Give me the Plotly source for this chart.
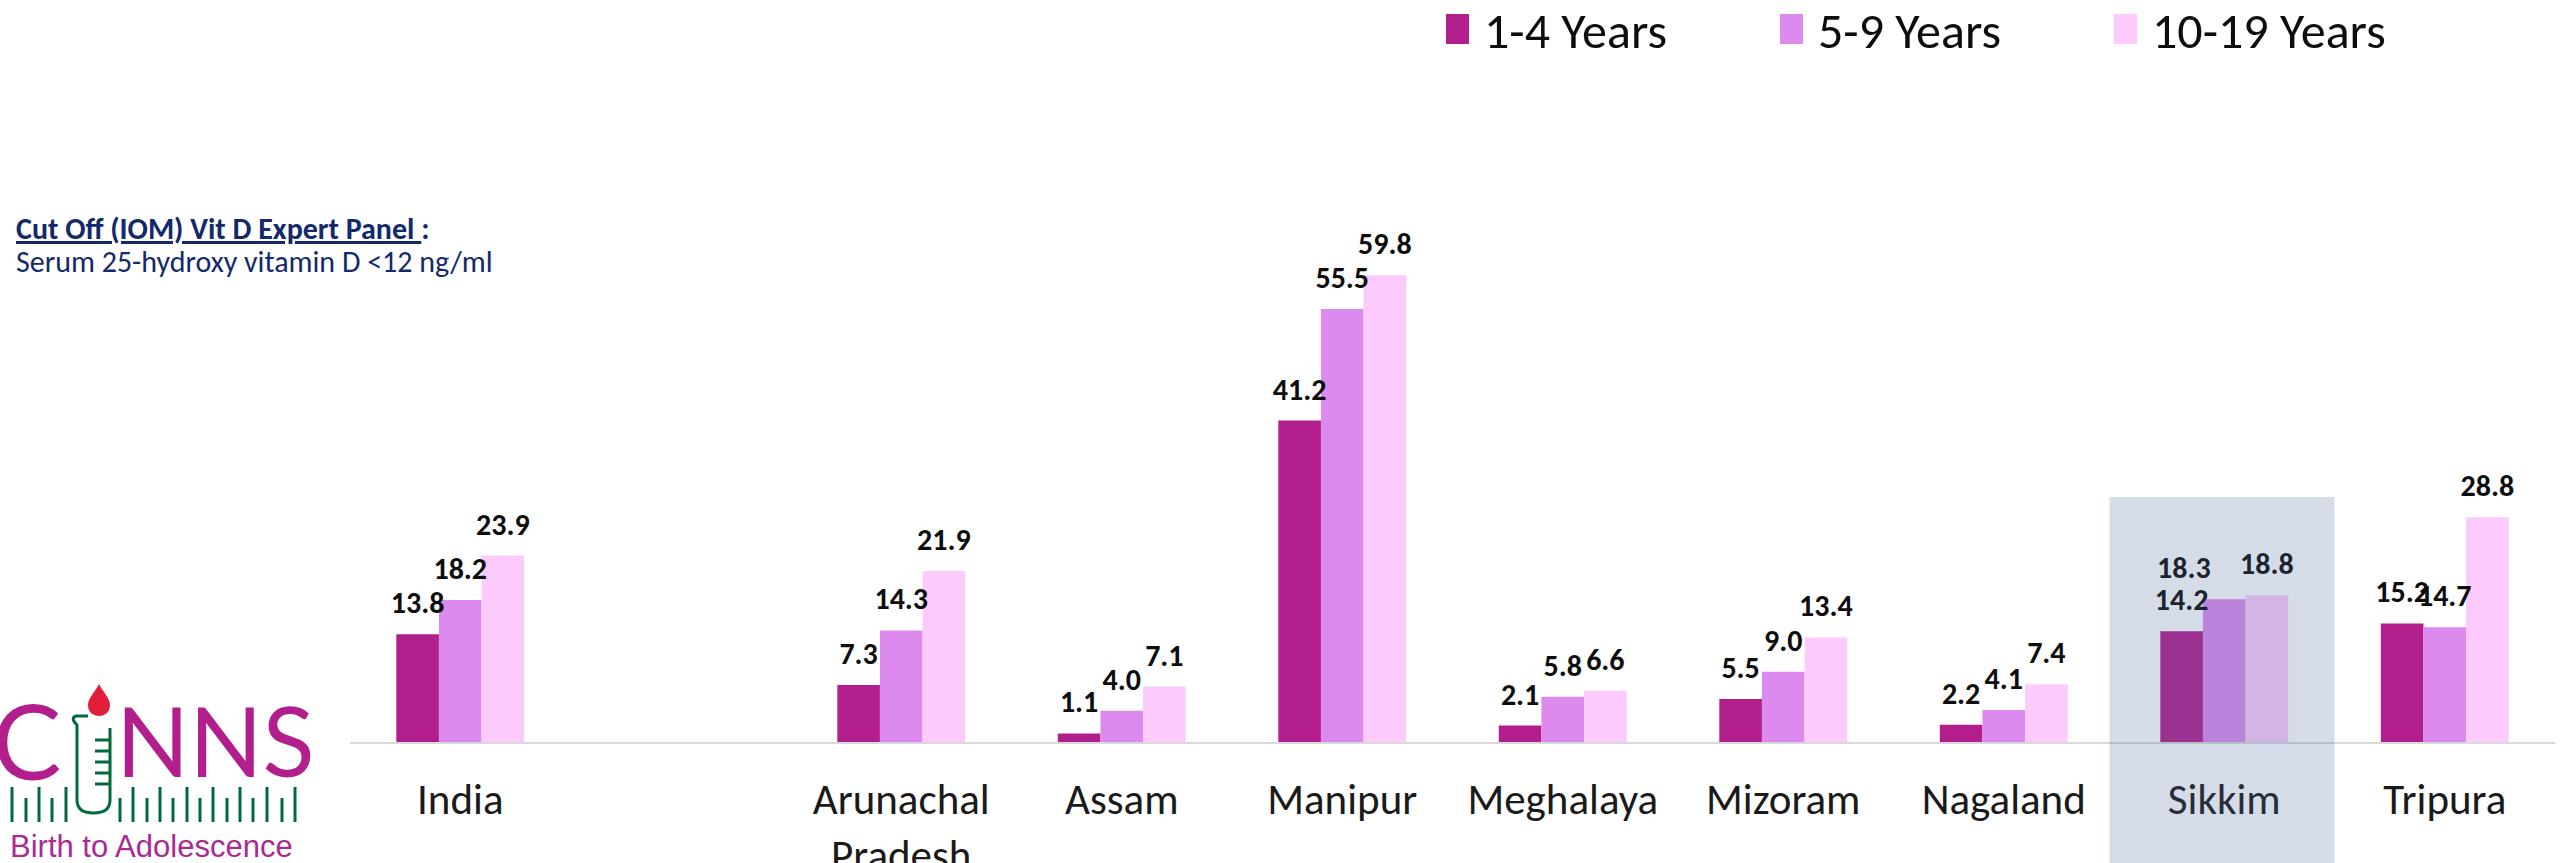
import plotly.graph_objects as go

W, H = 2573, 863

# ---- data -------------------------------------------------------------
states = ["India", "Arunachal<br>Pradesh", "Assam", "Manipur", "Meghalaya",
          "Mizoram", "Nagaland", "Sikkim", "Tripura"]
age_groups = ["1-4 Years", "5-9 Years", "10-19 Years"]
vals_1_4 = [13.8, 7.3, 1.1, 41.2, 2.1, 5.5, 2.2, 14.2, 15.2]
vals_5_9 = [18.2, 14.3, 4.0, 55.5, 5.8, 9.0, 4.1, 18.3, 14.7]
vals_10_19 = [23.9, 21.9, 7.1, 59.8, 6.6, 13.4, 7.4, 18.8, 28.8]
colors = ["#B31E8D", "#DD8AEF", "#FCCBFC"]
highlight_state = "Sikkim"

# empty slot separating the national figure from the states
axis_order = [states[0], " "] + states[1:]

FONT = "Carlito, Calibri, Lato, 'Open Sans', sans-serif"
NAVY = "#13296B"
LOGO_PURPLE = "#B31E8D"
LOGO_GREEN = "#00693E"

ML, MR, MT, MB = 350, 18, 60, 121
PW = W - ML - MR
PH = H - MT - MB


def px_x(px):
    return (px - ML) / PW


def px_y(py):
    return (H - MB - py) / PH


def path(points, close=False):
    s = "M " + " L ".join(f"{px_x(x):.5f},{px_y(y):.5f}" for x, y in points)
    return s + (" Z" if close else "")


fig = go.Figure()

series = [vals_1_4, vals_5_9, vals_10_19]
for name, vals, col in zip(age_groups, series, colors):
    fig.add_trace(go.Bar(
        x=states, y=vals, name=name,
        marker=dict(color=col, line=dict(width=0)),
        showlegend=False, hoverinfo="skip",
    ))

# value labels, grouped the same way as the bars; the middle Sikkim label
# is nudged left so it clears its neighbours
for name, vals in zip(age_groups, series):
    positions = ["top left" if (s == highlight_state and name == age_groups[1])
                 else "top center" for s in states]
    fig.add_trace(go.Scatter(
        x=states, y=vals, name=name, mode="markers+text",
        texttemplate="<b>%{y:.1f}</b>", textposition=positions,
        textfont=dict(family=FONT, size=30, color="#0D0D0D"),
        marker=dict(size=20, color="rgba(0,0,0,0)"),
        showlegend=False, hoverinfo="skip", cliponaxis=False,
    ))

# highlight band over Sikkim
idx = axis_order.index(highlight_state)
fig.add_shape(type="rect", xref="x", yref="paper",
              x0=idx - 0.52, x1=idx + 0.5, y0=px_y(H + 5), y1=px_y(497),
              fillcolor="rgba(78,107,158,0.24)", line_width=0, layer="above")

# legend drawn as squares + labels across the top
leg_x = [1446, 1780, 2114]
for name, col, lx in zip(age_groups, colors, leg_x):
    fig.add_shape(type="rect", xref="paper", yref="paper",
                  x0=px_x(lx), x1=px_x(lx + 23), y0=px_y(44), y1=px_y(14),
                  fillcolor=col, line_width=0)
    fig.add_annotation(xref="paper", yref="paper", x=px_x(lx + 36), y=px_y(30),
                       xanchor="left", yanchor="middle", showarrow=False,
                       text=name, font=dict(family=FONT, size=50, color="#0D0D0D"))

# cut-off note
fig.add_annotation(xref="paper", yref="paper", x=px_x(14), y=px_y(208),
                   xanchor="left", yanchor="top", showarrow=False,
                   text="<b><u>Cut Off (IOM) Vit D Expert Panel </u>:</b>",
                   font=dict(family=FONT, size=30, color=NAVY))
fig.add_annotation(xref="paper", yref="paper", x=px_x(14), y=px_y(241),
                   xanchor="left", yanchor="top", showarrow=False,
                   text="Serum 25-hydroxy vitamin D &lt;12 ng/ml",
                   font=dict(family=FONT, size=30, color=NAVY))

# ---- logo ---------------------------------------------------------------
fig.add_annotation(xref="paper", yref="paper", x=px_x(-10), y=px_y(739),
                   xanchor="left", yanchor="middle", showarrow=False,
                   text="C", font=dict(family="Lato", size=104, color=LOGO_PURPLE))
fig.add_annotation(xref="paper", yref="paper", x=px_x(114), y=px_y(739),
                   xanchor="left", yanchor="middle", showarrow=False,
                   text="NNS", font=dict(family="Lato", size=96, color=LOGO_PURPLE))
# blood drop
drop = (f"M {px_x(99)},{px_y(684)} "
        f"C {px_x(95)},{px_y(692)} {px_x(88)},{px_y(698)} {px_x(88)},{px_y(705)} "
        f"C {px_x(88)},{px_y(712)} {px_x(93)},{px_y(716)} {px_x(99)},{px_y(716)} "
        f"C {px_x(105)},{px_y(716)} {px_x(110)},{px_y(712)} {px_x(110)},{px_y(705)} "
        f"C {px_x(110)},{px_y(698)} {px_x(103)},{px_y(692)} {px_x(99)},{px_y(684)} Z")
fig.add_shape(type="path", xref="paper", yref="paper", path=drop,
              fillcolor="#E31E3A", line_width=0)
# test tube
tube = (f"M {px_x(88)},{px_y(716)} L {px_x(76)},{px_y(716)} "
        f"Q {px_x(70)},{px_y(718)} {px_x(77)},{px_y(725)} "
        f"L {px_x(77)},{px_y(800)} "
        f"Q {px_x(77)},{px_y(813)} {px_x(93.5)},{px_y(813)} "
        f"Q {px_x(110)},{px_y(813)} {px_x(110)},{px_y(800)} "
        f"L {px_x(110)},{px_y(728)}")
fig.add_shape(type="path", xref="paper", yref="paper", path=tube,
              line=dict(color=LOGO_GREEN, width=3))
for gy in [740, 751, 762, 773, 784]:
    fig.add_shape(type="path", xref="paper", yref="paper",
                  path=path([(95, gy), (110, gy)]),
                  line=dict(color=LOGO_GREEN, width=3))
# ruler marks
ruler_x = [12, 26, 39, 52, 66, 120, 133, 147, 160, 173, 187, 200, 213,
           227, 240, 253, 267, 282, 295]
for i, rx in enumerate(ruler_x):
    top = 787 if i % 2 == 0 else 798
    fig.add_shape(type="path", xref="paper", yref="paper",
                  path=path([(rx, top), (rx, 822)]),
                  line=dict(color=LOGO_GREEN, width=3))
fig.add_annotation(xref="paper", yref="paper", x=px_x(8), y=px_y(846),
                   xanchor="left", yanchor="middle", showarrow=False,
                   text="Birth to Adolescence",
                   font=dict(family="'Liberation Sans', Arial, sans-serif",
                             size=31, color="#A92A92"))

fig.update_layout(
    width=W, height=H,
    margin=dict(l=ML, r=MR, t=MT, b=MB, autoexpand=False),
    paper_bgcolor="white", plot_bgcolor="white",
    barmode="group", bargap=0.42, bargroupgap=0,
    scattermode="group", scattergap=0.42,
    showlegend=False,
    xaxis=dict(
        type="category", categoryorder="array", categoryarray=axis_order,
        range=[-0.5, len(axis_order) - 0.5], automargin=False,
        showline=True, linecolor="#D9D9D9", linewidth=2,
        ticks="", showgrid=False, zeroline=False, layer="below traces",
        tickfont=dict(family=FONT, size=43, color="#1A1A1A"),
        ticklabelstandoff=18,
    ),
    yaxis=dict(range=[0, 87.4], visible=False, showgrid=False, zeroline=False,
               automargin=False),
)

fig.write_html("out.html")
